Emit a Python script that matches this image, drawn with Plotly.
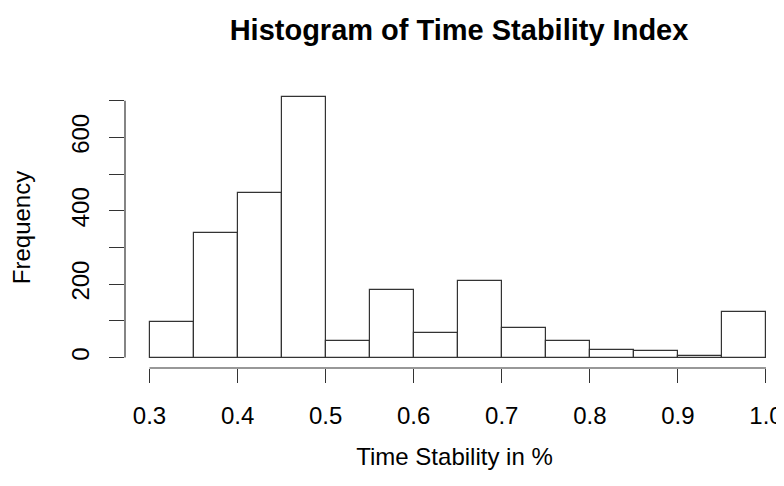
import plotly.graph_objects as go

# Histogram data (bin edges and counts)
bin_edges = [0.30, 0.35, 0.40, 0.45, 0.50, 0.55, 0.60, 0.65, 0.70, 0.75, 0.80, 0.85, 0.90, 0.95, 1.00]
counts = [97, 340, 449, 709, 46, 185, 67, 208, 81, 45, 21, 18, 5, 124]

x_tick_vals = [0.3, 0.4, 0.5, 0.6, 0.7, 0.8, 0.9, 1.0]
x_tick_text = ["0.3", "0.4", "0.5", "0.6", "0.7", "0.8", "0.9", "1.0"]
y_tick_vals = [0, 100, 200, 300, 400, 500, 600, 700]
y_tick_text = ["0", "", "200", "", "400", "", "600", ""]

title = "Histogram of Time Stability Index"
x_title = "Time Stability in %"
y_title = "Frequency"

centers = [(a + b) / 2 for a, b in zip(bin_edges[:-1], bin_edges[1:])]
widths = [b - a for a, b in zip(bin_edges[:-1], bin_edges[1:])]

FONT = "Liberation Sans, Arial, Helvetica, sans-serif"
LINE = "#333333"
W, H = 776, 478  # page body has an 8px margin inside the 784x486 window

fig = go.Figure()
fig.add_trace(go.Bar(
    x=centers, y=counts, width=widths,
    marker=dict(color="white", line=dict(color=LINE, width=1.2)),
    showlegend=False, hoverinfo="x+y",
))

fig.update_layout(
    width=W, height=H,
    paper_bgcolor="white", plot_bgcolor="white",
    margin=dict(l=117, r=0, t=79, b=118, autoexpand=False),
    font=dict(family=FONT, color="black", size=24),
    title=dict(text="<b>" + title + "</b>", x=451 / W, xanchor="center",
               y=1 - 21.5 / H, yanchor="middle", yref="container",
               font=dict(size=29, family=FONT, color="black")),
    bargap=0,
)

fig.update_xaxes(
    range=[0.27218, 1.02046], showgrid=False, zeroline=False, showline=False,
    tickmode="array", tickvals=x_tick_vals, ticktext=x_tick_text,
    ticks="outside", ticklen=14, tickwidth=1.2, tickcolor=LINE,
    ticklabelstandoff=12,
    tickfont=dict(size=24),
    title=dict(text=x_title, font=dict(size=24), standoff=20),
)
fig.update_yaxes(
    range=[-28.4, 737.4], showgrid=False, zeroline=False, showline=False,
    tickmode="array", tickvals=y_tick_vals, ticktext=y_tick_text,
    ticks="outside", ticklen=15, tickwidth=1.2, tickcolor=LINE,
    tickangle=-90, ticklabelstandoff=10,
    tickfont=dict(size=24),
    title=dict(text=y_title, font=dict(size=24), standoff=32),
)

# R-style axis lines spanning only the tick range
fig.add_shape(type="line", xref="x", yref="paper",
              x0=x_tick_vals[0], x1=x_tick_vals[-1], y0=0, y1=0,
              line=dict(color=LINE, width=1.2))
fig.add_shape(type="line", xref="paper", yref="y",
              x0=0, x1=0, y0=y_tick_vals[0], y1=y_tick_vals[-1],
              line=dict(color=LINE, width=1.2))

fig.write_html("out.html")
